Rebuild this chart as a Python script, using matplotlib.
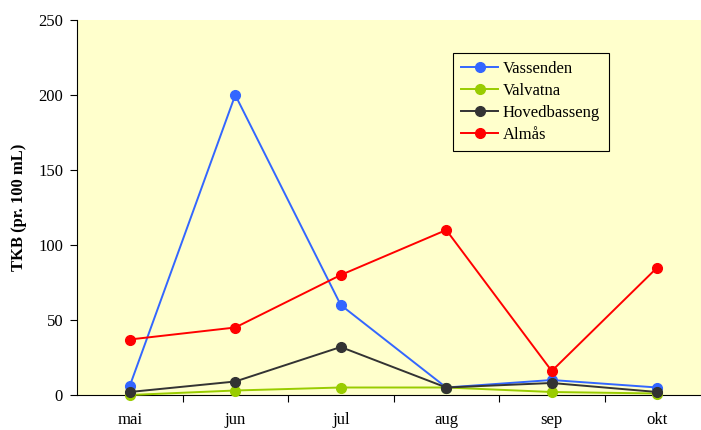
import matplotlib
matplotlib.use("Agg")
import matplotlib.pyplot as plt
from matplotlib.ticker import FixedLocator

months = ["mai", "jun", "jul", "aug", "sep", "okt"]
vassenden = [6, 200, 60, 5, 10, 5]
valvatna = [0, 3, 5, 5, 2, 1]
hovedbasseng = [2, 9, 32, 5, 8, 2]
almas = [37, 45, 80, 110, 16, 85]
yticks = [0, 50, 100, 150, 200, 250]

plt.rcParams['font.family'] = ['Liberation Serif', 'DejaVu Serif']

fig = plt.figure(figsize=(7.01, 4.30), dpi=100)
ax = fig.add_axes([77/701, 35/430, 633/701, 375/430])
ax.set_facecolor('#FFFFCC')

x = list(range(len(months)))
series = [
    ("Vassenden", vassenden, '#3366FF'),
    ("Valvatna", valvatna, '#99CC00'),
    ("Hovedbasseng", hovedbasseng, '#333333'),
    ("Almås", almas, '#FF0000'),
]
for name, vals, col in series:
    ax.plot(x, vals, color=col, marker='o', markersize=7, linewidth=1.4,
            label=name, clip_on=False, zorder=3)

ax.set_xlim(-0.5, 5.5)
ax.set_ylim(0, 250)
ax.set_yticks(yticks)
ax.set_xticks(x)
ax.set_xticklabels(months)
ax.xaxis.set_minor_locator(FixedLocator([0.5, 1.5, 2.5, 3.5, 4.5]))
ax.tick_params(axis='x', which='major', length=0, pad=12, labelsize=12)
ax.tick_params(axis='x', which='minor', length=5, direction='out', width=0.8)
ax.tick_params(axis='y', length=5, direction='out', labelsize=12, width=0.8, pad=5)
ax.spines['top'].set_visible(False)
ax.spines['right'].set_visible(False)
ax.set_ylabel("TKB (pr. 100 mL)", fontsize=12, fontweight='bold', labelpad=8)

leg = ax.legend(loc='upper left', bbox_to_anchor=((453-77)/633, (395-53)/375),
                borderaxespad=0,
                frameon=True, fancybox=False, edgecolor='black',
                facecolor='#FFFFCC', framealpha=1, fontsize=12,
                handlelength=2.2, borderpad=0.5, labelspacing=0.35, handletextpad=0.3)
leg.get_frame().set_linewidth(0.8)

fig.savefig("out.png", dpi=100)
